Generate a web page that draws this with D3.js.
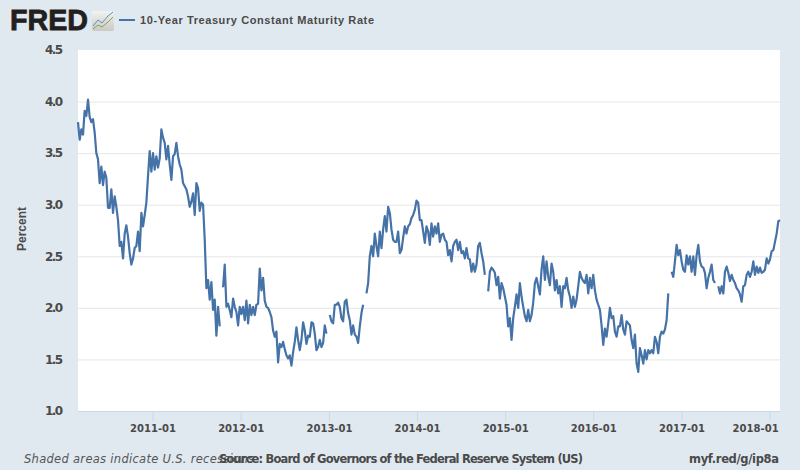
<!DOCTYPE html>
<html>
<head>
<meta charset="utf-8">
<script src="https://d3js.org/d3.v7.min.js"></script>
<style>
html, body { margin: 0; padding: 0; background: #e1e9f0; }
svg { display: block; }
text { font-family: "Liberation Sans", Arial, sans-serif; }
</style>
</head>
<body>
<svg id="chart" width="800" height="470"></svg>
<script>
var seriesName = "10-Year Treasury Constant Maturity Rate"
var yTicks = [1.0, 1.5, 2.0, 2.5, 3.0, 3.5, 4.0, 4.5]
var xTicks = ["2011-01", "2012-01", "2013-01", "2014-01", "2015-01", "2016-01", "2017-01", "2018-01"]
var startDate = new Date(2010, 1, 26)
var endDate = new Date(2018, 1, 13)

// values, evenly spaced (a bit under a week apart), null = gap in the line
var ratesEarly = [3.80, 3.63, 3.73, 3.68, 3.91, 3.86, 4.02, 3.85, 3.80, 3.83, 3.70, 3.50, 3.44, 3.21, 3.37, 3.19, 3.32, 3.26, 2.97, 2.97,
    3.15, 2.92, 3.08, 2.98, 2.85, 2.60, 2.64, 2.48, 2.72, 2.80, 2.69, 2.53, 2.42, 2.48, 2.58, 2.60, 2.74, 2.55, 2.92, 2.79,
    2.90, 3.02, 3.28, 3.52, 3.32, 3.50, 3.34, 3.47, 3.36, 3.45, 3.73, 3.65, 3.60, 3.44, 3.57, 3.39, 3.24, 3.47, 3.49, 3.60,
    3.47, 3.39, 3.34, 3.21, 3.18, 3.15, 3.08, 2.98, 3.03, 3.11, 2.90, 3.21, 3.16, 2.94, 3.02, 3.00, 2.66, 2.19, 2.27, 2.08,
    2.25, 1.98, 2.08, 1.73, 2.01, 1.82, null, 2.20, 2.42, 2.01, 2.04, 1.98, 1.91, 2.09, 2.01, 1.96, 1.83, 2.01, 1.94, 2.01,
    1.88, 2.07, 1.85, 2.03, 1.93, 2.01, 1.93, 2.03, 2.04, 2.38, 2.17, 2.29, 2.07, 2.01, 2.00, 1.96, 1.91, 1.78, 1.72, 1.77,
    1.47, 1.65, 1.62, 1.67, 1.60, 1.54, 1.51, 1.54, 1.44, 1.57, 1.67, 1.81, 1.69, 1.59, 1.69, 1.86, 1.78, 1.65, 1.73]
var ratesMiddle = [1.72, 1.86, 1.85, 1.75, 1.59, 1.62, 1.69, 1.62, 1.66, 1.83, 1.75, null, 1.93, 1.87, 1.85, 2.03, 2.03, 2.05, 2.01, 1.90,
    1.87, 2.06, 2.08, 1.95, 1.88, 1.74, 1.83, 1.74, 1.72, 1.66, 1.82, 1.95, 2.03, null, 2.14, 2.24, 2.50, 2.60, 2.50, 2.72,
    2.60, 2.50, 2.74, 2.58, 2.76, 2.89, 2.74, 2.98, 2.92, 2.76, 2.66, 2.64, 2.64, 2.74, 2.53, 2.56, 2.68, 2.79, 2.72, 2.79,
    2.81, 2.87, 2.90, 2.95, 3.04, 3.02, 2.85, 2.85, 2.74, 2.63, 2.79, 2.74, 2.61, 2.82, 2.69, 2.79, 2.72, 2.82, 2.64, 2.71,
    2.72, 2.66, 2.64, 2.51, 2.56, 2.45, 2.60, 2.64, 2.66, 2.56, 2.64, 2.53, 2.55, 2.48, 2.58, 2.48, 2.47, 2.35, 2.43, 2.35,
    2.42, 2.60, 2.63, 2.53, 2.45, 2.32, null, 2.16, 2.35, 2.39, 2.37, 2.34, 2.22, 2.30, 2.09, 2.24, 2.19, 2.11, 2.03, 1.82,
    1.90, 1.69, 1.90, 2.01, 2.13, 2.00, 2.24, 2.11, 2.01, 1.92, 1.87, 1.98, 1.87, 1.93, 2.05, 2.24, 2.29, 2.21]
var ratesLate = [2.13, 2.37, 2.50, 2.27, 2.45, 2.30, 2.22, 2.43, 2.35, 2.17, 2.27, 2.14, 2.21, 2.01, 2.21, 2.19, 2.29, 2.17, 2.11, 2.00,
    2.11, 2.01, 2.08, 2.21, 2.35, 2.29, 2.26, 2.24, 2.32, 2.14, 2.29, 2.19, 2.32, 2.17, 2.08, 2.03, 1.98, 1.83, 1.64, 1.80,
    1.72, 1.85, 2.00, 1.90, 1.92, 1.77, 1.72, 1.82, 1.82, 1.93, 1.79, 1.74, 1.87, 1.85, 1.83, 1.69, 1.61, 1.74, 1.46, 1.38,
    1.61, 1.54, 1.46, 1.59, 1.50, 1.59, 1.56, 1.59, 1.56, 1.72, 1.67, 1.56, 1.72, 1.77, 1.75, 1.79, 1.88, 2.14, null, 2.35,
    2.30, 2.45, 2.61, 2.51, 2.56, 2.45, 2.37, 2.35, 2.51, 2.42, 2.50, 2.35, 2.50, 2.32, 2.51, 2.61, 2.45, 2.40, 2.39, 2.34,
    2.19, 2.29, 2.35, 2.42, 2.27, 2.24, null, 2.21, 2.14, 2.21, 2.14, 2.35, 2.40, 2.34, 2.26, 2.32, 2.27, 2.24, 2.19, 2.17,
    2.13, 2.06, 2.21, 2.22, 2.32, 2.35, 2.30, 2.35, 2.45, 2.32, 2.40, 2.34, 2.39, 2.34, 2.35, 2.37, 2.48, 2.43, 2.47, 2.55,
    2.56, 2.64, 2.72, 2.84, 2.85]

var rates = [].concat(ratesEarly, ratesMiddle, ratesLate)

var stepDays = d3.timeDay.count(startDate, endDate) / (rates.length - 1)
var series = rates.map(function(v, i) {
    return { date: d3.timeHour.offset(startDate, Math.round(i * stepDays * 24)), value: v }
})

var parseMonth = d3.timeParse("%Y-%m")
var fmtMonth = d3.timeFormat("%Y-%m")

var svg = d3.select("#chart")
var plotLeft = 78, plotRight = 780, plotTop = 50, plotBottom = 411
var textColor = "#4a4a4a"

var x = d3.scaleTime().domain([startDate, endDate]).range([plotLeft, plotRight])
var y = d3.scaleLinear().domain([1, 4.5]).range([plotBottom, plotTop])

svg.append("rect").attr("x", plotLeft).attr("y", plotTop).attr("width", plotRight - plotLeft).attr("height", plotBottom - plotTop).attr("fill", "#fff")

// y axis, the tick lines work as grid
var yAxis = d3.axisLeft(y).tickValues(yTicks).tickFormat(d3.format(".1f")).tickSize(-(plotRight - plotLeft)).tickPadding(15)
var yG = svg.append("g").attr("transform", "translate(" + plotLeft + ",0)").call(yAxis)
yG.select(".domain").remove()
yG.selectAll("line").attr("stroke", "#e6e6e6").attr("stroke-width", 1)
yG.selectAll("line").filter(function(d) { return d == 1 || d == 4.5 }).remove()
yG.selectAll("text")
    .attr("fill", textColor).style("font-size", "12px").style("font-weight", "bold")
    .style("font-family", "'DejaVu Sans', sans-serif").attr("textLength", 18)

// x axis
var xAxis = d3.axisBottom(x).tickValues(xTicks.map(parseMonth)).tickFormat(fmtMonth).tickSize(10).tickPadding(3)
var xG = svg.append("g").attr("transform", "translate(0," + plotBottom + ")").call(xAxis)
xG.select(".domain").attr("stroke", "#ccd6eb").attr("d", "M" + plotLeft + ",0.5H" + plotRight)
xG.selectAll("line").attr("stroke", "#ccd6eb")
xG.selectAll("text")
    .attr("fill", textColor).style("font-size", "11px").style("font-weight", "bold")
    .style("font-family", "'DejaVu Sans', sans-serif").attr("textLength", 46).attr("lengthAdjust", "spacingAndGlyphs")
// last label is pushed in so it stays inside the plot edge
xG.selectAll("text").filter(function(d, i) { return i == xTicks.length - 1 })
    .attr("text-anchor", "end").attr("dx", 8.5)

// the line
var line = d3.line()
    .defined(function(d) { return d.value !== null })
    .x(function(d) { return x(d.date) })
    .y(function(d) { return y(d.value) })

svg.append("path").datum(series)
    .attr("d", line).attr("fill", "none")
    .attr("stroke", "#4572a7").attr("stroke-width", 2.2).attr("stroke-linejoin", "round")

svg.append("text").text("Percent")
    .attr("transform", "translate(26,229) rotate(-90)").attr("text-anchor", "middle")
    .attr("fill", textColor).style("font-size", "12px").style("font-weight", "bold")

// FRED logo
svg.append("text").text("FRED").attr("x", 10).attr("y", 30)
    .attr("fill", "#231f20").style("font-size", "29px").style("font-weight", "bold")
    .style("font-family", "'Liberation Sans', sans-serif").attr("textLength", 78).attr("lengthAdjust", "spacingAndGlyphs")
    .attr("stroke", "#231f20").attr("stroke-width", 0.8)
var grad = svg.append("defs").append("linearGradient").attr("id", "icon_bg").attr("x1", 0).attr("x2", 0).attr("y1", 0).attr("y2", 1)
grad.append("stop").attr("offset", "0%").attr("stop-color", "#f2f2f0")
grad.append("stop").attr("offset", "100%").attr("stop-color", "#c9c9c6")
svg.append("rect").attr("x", 92).attr("y", 11).attr("width", 22).attr("height", 20).attr("rx", 2).attr("fill", "url(#icon_bg)")
svg.append("path").attr("d", "M93,26L98,20L102,23L108,16L113,12").attr("fill", "none").attr("stroke", "#5f8fb5").attr("stroke-width", 1)
svg.append("path").attr("d", "M93,29L98,25L102,27L108,22L113,17").attr("fill", "none").attr("stroke", "#7fa650").attr("stroke-width", 1)

// legend
svg.append("line").attr("x1", 119).attr("x2", 135).attr("y1", 20).attr("y2", 20).attr("stroke", "#4572a7").attr("stroke-width", 2)
svg.append("text").text(seriesName).attr("x", 140).attr("y", 24)
    .attr("fill", textColor).style("font-size", "11px").style("font-weight", "bold")
    .attr("textLength", 234).attr("lengthAdjust", "spacing")

// footer
svg.append("text").text("Shaded areas indicate U.S. recessions").attr("x", 24).attr("y", 463)
    .attr("fill", "#555").style("font-size", "11.5px").style("font-style", "italic")
    .style("font-family", "'DejaVu Sans', sans-serif").attr("textLength", 230)
svg.append("text").text("Source: Board of Governors of the Federal Reserve System (US)").attr("x", 219).attr("y", 463)
    .attr("fill", textColor).style("font-size", "11.5px").style("font-weight", "bold")
    .style("font-family", "'DejaVu Sans', sans-serif").attr("textLength", 364)
svg.append("text").text("myf.red/g/ip8a").attr("x", 779).attr("y", 463).attr("text-anchor", "end")
    .attr("fill", textColor).style("font-size", "11.5px").style("font-weight", "bold")
    .style("font-family", "'DejaVu Sans', sans-serif").attr("textLength", 90)
</script>
</body>
</html>
